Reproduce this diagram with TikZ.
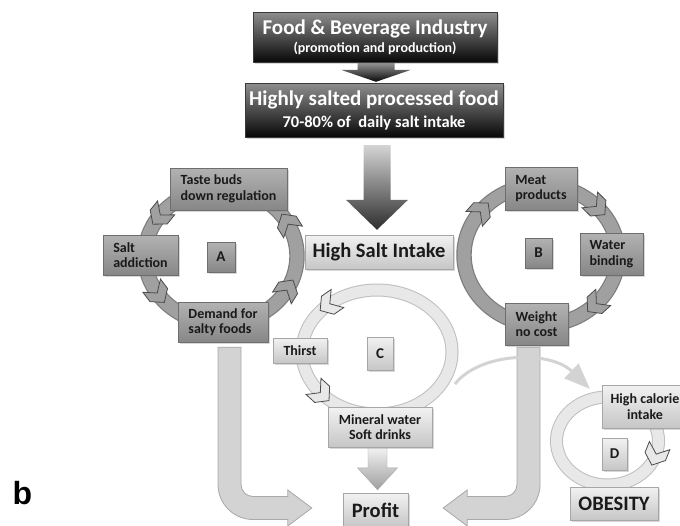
\documentclass[tikz,border=0pt]{standalone}
\usepackage{fontspec}
\setmainfont{Carlito}
\newfontfamily\panelfont{Liberation Sans}
\usetikzlibrary{shapes.symbols, arrows.meta, calc, shadows}

\definecolor{ink}{HTML}{1A1A1A}
\definecolor{darktop}{HTML}{8E8E8E}
\definecolor{darkbot}{HTML}{080808}
\definecolor{darkedge}{HTML}{3A3A3A}
\definecolor{midtop}{HTML}{B2B2B2}
\definecolor{midbot}{HTML}{878787}
\definecolor{midedge}{HTML}{6E6E6E}
\definecolor{lighttop}{HTML}{F2F2F2}
\definecolor{lightbot}{HTML}{C6C6C6}
\definecolor{lightedge}{HTML}{A6A6A6}
\definecolor{ringmidfill}{HTML}{A0A0A0}
\definecolor{ringmidedge}{HTML}{7C7C7C}
\definecolor{ringlightfill}{HTML}{E8E8E8}
\definecolor{ringlightedge}{HTML}{BEBEBE}
\definecolor{chevedge}{HTML}{4A4A4A}
\definecolor{bendfill}{HTML}{D3D3D3}
\definecolor{bendedge}{HTML}{A8A8A8}

\pgfdeclarelayer{background}
\pgfsetlayers{background,main}

% block arrow pointing down: start, tip, half shaft, half head, head length, style
\newcommand{\downblock}[6]{%
  \path[#6] let \p1=(#1), \p2=(#2) in
    (\x1-#3pt,\y1) -- (\x1+#3pt,\y1) -- (\x1+#3pt,\y2+#5pt) -- (\x1+#4pt,\y2+#5pt)
    -- (\x1,\y2) -- (\x1-#4pt,\y2+#5pt) -- (\x1-#3pt,\y2+#5pt) -- cycle;}

% chevron sitting on a ring: centre, x radius, y radius, angle, turn, style
\newcommand{\chev}[6]{%
  \path (#1) ++(#4:#2 and #3)
    arc[start angle=#4, delta angle=#5, x radius=#2, y radius=#3]
    node[#6, midway, sloped, allow upside down] {};}

\tikzset{
  box/.style={rectangle, inner sep=0pt, align=center, text=ink,
    drop shadow={opacity=0.3, shadow xshift=1.5pt, shadow yshift=-1.5pt}},
  darkbox/.style={box, top color=darktop, bottom color=darkbot, draw=darkedge, text=white},
  midbox/.style={box, top color=midtop, bottom color=midbot, draw=midedge, align=left},
  lightbox/.style={box, top color=lighttop, bottom color=lightbot, draw=lightedge},
  bigtext/.style={font=\bfseries\fontsize{21}{22}\selectfont},
  smalltext/.style={font=\bfseries\fontsize{14}{15.5}\selectfont},
  lettertext/.style={font=\bfseries\fontsize{15}{17}\selectfont},
  ringmid/.style={draw=ringmidedge, line width=1.2pt, double=ringmidfill, double distance=13pt},
  ringlight/.style={draw=ringlightedge, line width=1pt, double=ringlightfill, double distance=11pt},
  chevron/.style={signal, signal from=west, signal to=east, signal pointer angle=100,
    minimum width=21pt, minimum height=22pt, inner sep=0pt, draw=chevedge, line width=0.8pt},
  chevmid/.style={chevron, fill=ringmidfill},
  chevlight/.style={chevron, fill=ringlightfill},
  darkarrow/.style={top color=darktop!90, bottom color=darkbot},
  greyarrow/.style={top color=lighttop!70!darktop, bottom color=darkbot!85},
  lightarrow/.style={top color=lighttop, bottom color=lightbot!80!black, draw=lightedge},
  bendarrow/.style={fill=bendfill, draw=bendedge, line width=0.8pt},
  linkarrow/.style={draw=bendfill, line width=3pt,
    -{Triangle[width=20pt,length=26pt]}},
}

\begin{document}
\begin{tikzpicture}[x=1pt, y=-1pt]
  \path[use as bounding box, clip] (0,0) rectangle (680,525);

  % industry chain
  \node[darkbox, bigtext, minimum width=244, minimum height=50] (food) at (375,37)
    {Food \& Beverage Industry\\[-4pt]{\fontsize{14}{15}\selectfont(promotion and production)}};
  \node[darkbox, bigtext, minimum width=258, minimum height=54] (proc) at (374,110)
    {Highly salted processed food\\{\fontsize{16.5}{18}\selectfont 70-80\% of~ daily salt intake}};
  \node[lightbox, font=\bfseries\fontsize{20.5}{22}\selectfont, minimum width=148, minimum height=34]
    (salt) at (379,252) {High Salt Intake};

  % cycle A
  \node[midbox, smalltext, minimum width=117, minimum height=42] (taste) at (228.5,189) {Taste buds\\down regulation};
  \node[midbox, smalltext, minimum width=75, minimum height=40] (addict) at (140.5,255) {Salt\\addiction};
  \node[midbox, lettertext, minimum width=28, minimum height=30] (lA) at (221,257) {A};
  \node[midbox, smalltext, minimum width=90, minimum height=40] (demand) at (223,322) {Demand for\\salty foods};

  % cycle B
  \node[midbox, smalltext, minimum width=72, minimum height=43] (meat) at (541,188.5) {Meat\\products};
  \node[midbox, lettertext, minimum width=27, minimum height=30] (lB) at (538.5,253) {B};
  \node[midbox, smalltext, minimum width=63, minimum height=42] (water) at (611.5,254) {Water\\binding};
  \node[midbox, smalltext, minimum width=63, minimum height=42] (weight) at (536.5,324) {Weight\\no cost};

  % cycle C
  \node[lightbox, smalltext, minimum width=54, minimum height=25] (thirst) at (300,350.5) {Thirst};
  \node[lightbox, lettertext, minimum width=26, minimum height=33] (lC) at (380,353.5) {C};
  \node[lightbox, smalltext, minimum width=104, minimum height=40] (mineral) at (380,427) {Mineral water\\Soft drinks};
  \node[lightbox, font=\bfseries\fontsize{20.5}{22}\selectfont, minimum width=65, minimum height=34]
    (profit) at (375.5,510) {Profit};

  % cycle D
  \node[lightbox, smalltext, minimum width=86, minimum height=43] (calorie) at (645,406.5) {High calorie\\intake};
  \node[lightbox, lettertext, minimum width=25, minimum height=32] (lD) at (614.5,454) {D};
  \node[lightbox, font=\bfseries\fontsize{20.5}{22}\selectfont, minimum width=88, minimum height=33]
    (obesity) at (614,503.5) {OBESITY};

  \node[font=\panelfont\bfseries\fontsize{32}{34}\selectfont] (panel) at (22.5,493.5) {b};

  \begin{pgfonlayer}{background}
    \fill[white] (0,0) rectangle (680,525);

    % rings with their chevrons
    \coordinate (ringA) at (221,256);
    \coordinate (ringB) at (541,255);
    \coordinate (ringC) at (377,352);
    \coordinate (ringD) at (607.5,441);
    \draw[ringmid] (ringA) ellipse [x radius=76, y radius=68];
    \draw[ringmid] (ringB) ellipse [x radius=77, y radius=70];
    \draw[ringlight] (ringC) ellipse [x radius=75, y radius=62];
    \draw[ringlight] (ringD) ellipse [x radius=51, y radius=44];

    \chev{ringA}{76}{68}{218}{-4}{chevmid}
    \chev{ringA}{76}{68}{148}{-4}{chevmid}
    \chev{ringA}{76}{68}{31}{-4}{chevmid}
    \chev{ringA}{76}{68}{-27}{-4}{chevmid}
    \chev{ringB}{77}{70}{217}{4}{chevmid}
    \chev{ringB}{77}{70}{-45}{4}{chevmid}
    \chev{ringB}{77}{70}{43}{4}{chevmid}
    \chev{ringC}{75}{62}{232}{-4}{chevlight}
    \chev{ringC}{75}{62}{140}{-4}{chevlight}
    \chev{ringD}{51}{44}{17}{4}{chevlight}

    % bent arrows into Profit
    \path[bendarrow] let \p1=($(demand.south)+(6.5,5)$), \p2=($(profit.west)+(-31,-2)$) in
      (\x1-11.5pt,\y1) -- (\x1-11.5pt,\y2+23.5pt)
      .. controls (\x1-11.5pt,\y2+4.2pt) and (\x1+4.2pt,\y2-11.5pt) .. (\x1+23.5pt,\y2-11.5pt)
      -- (\x2-24pt,\y2-11.5pt) -- (\x2-24pt,\y2-18pt) -- (\x2,\y2)
      -- (\x2-24pt,\y2+18pt) -- (\x2-24pt,\y2+11.5pt) -- (\x1+23.5pt,\y2+11.5pt)
      .. controls (\x1+16.9pt,\y2+11.5pt) and (\x1+11.5pt,\y2+16.9pt) .. (\x1+11.5pt,\y2+23.5pt)
      -- (\x1+11.5pt,\y1) -- cycle;
    \path[bendarrow] let \p1=($(weight.south)+(-8,2)$), \p2=($(profit.east)+(35,-2)$) in
      (\x1+11.5pt,\y1) -- (\x1+11.5pt,\y2+23.5pt)
      .. controls (\x1+11.5pt,\y2+4.2pt) and (\x1-4.2pt,\y2-11.5pt) .. (\x1-23.5pt,\y2-11.5pt)
      -- (\x2+24pt,\y2-11.5pt) -- (\x2+24pt,\y2-18pt) -- (\x2,\y2)
      -- (\x2+24pt,\y2+18pt) -- (\x2+24pt,\y2+11.5pt) -- (\x1-23.5pt,\y2+11.5pt)
      .. controls (\x1-16.9pt,\y2+11.5pt) and (\x1-11.5pt,\y2+16.9pt) .. (\x1-11.5pt,\y2+23.5pt)
      -- (\x1-11.5pt,\y1) -- cycle;

    % thirst loop feeding the obesity loop
    \coordinate (cout) at (455,384);
    \coordinate (din) at (590,389);
    \draw[linkarrow] (cout) .. controls (480,352) and (550,350) .. (din);

    % straight block arrows
    \downblock{$(food.south)+(1,0)$}{$(proc.north)+(0,-1)$}{18.5}{35}{12}{darkarrow}
    \downblock{$(proc.south)+(3,8)$}{$(salt.north)+(0,-5)$}{13.5}{31}{30}{greyarrow}
    \downblock{$(mineral.south)+(-2.5,0)$}{$(profit.north)+(0,-3)$}{9.5}{20}{22}{lightarrow}
  \end{pgfonlayer}
\end{tikzpicture}
\end{document}
